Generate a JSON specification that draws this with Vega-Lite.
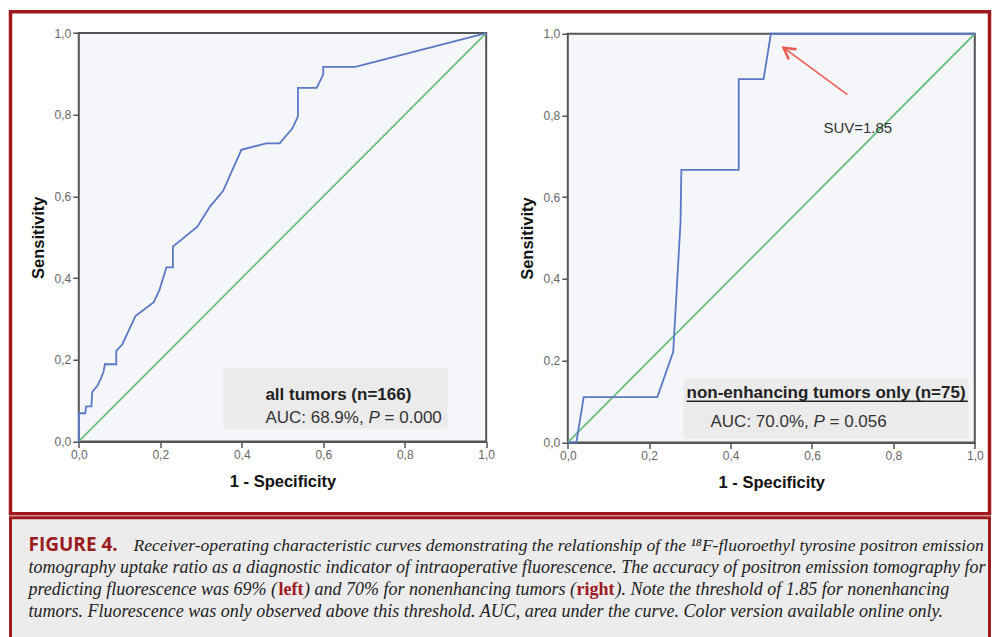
{
  "$schema": "https://vega.github.io/schema/vega-lite/v6.json",
  "background": "white",
  "padding": {"left": 8.5, "top": 9.75, "right": 0, "bottom": 0},
  "spacing": 0,
  "config": {
    "axis": {"domainColor": "#555", "domainWidth": 2, "tickColor": "#555", "tickWidth": 1.5, "tickSize": 6, "labelFont": "Liberation Sans", "labelFontSize": 12, "labelColor": "#666", "labelPadding": 2, "labelFlush": false, "labelOverlap": false, "titleFont": "Liberation Sans", "titleFontSize": 16.5, "titleFontWeight": "bold", "titleColor": "#111", "grid": false},
    "axisX": {"titlePadding": 13},
    "axisY": {"titlePadding": 8}
  },
  "vconcat": [
    {
      "width": 979,
      "height": 502,
      "view": {"stroke": "#a0191f", "strokeWidth": 3.5, "fill": "white"},
      "resolve": {"scale": {"x": "independent", "y": "independent"}, "axis": {"x": "independent", "y": "independent"}},
      "layer": [
        {
          "layer": [
            {
              "data": {"values": [{"x0": 0, "x1": 1, "y0": 0, "y1": 1}]},
              "mark": {"type": "rect", "fill": "#f4f6fa"},
              "encoding": {
                "x": {"field": "x0", "type": "quantitative", "scale": {"domain": [0, 1], "range": [68.3, 475.7], "nice": false, "zero": false},
                  "axis": {"orient": "bottom", "offset": -72.3, "values": [0, 0.2, 0.4, 0.6, 0.8, 1], "labelExpr": "replace(format(datum.value, '.1f'), '.', ',')", "title": "1 - Specificity"}},
                "x2": {"field": "x1"},
                "y": {"field": "y0", "type": "quantitative", "scale": {"domain": [0, 1], "range": [429.7, 21.3], "nice": false, "zero": false},
                  "axis": {"orient": "left", "offset": -68.3, "values": [0, 0.2, 0.4, 0.6, 0.8, 1], "labelExpr": "replace(format(datum.value, '.1f'), '.', ',')", "title": "Sensitivity"}},
                "y2": {"field": "y1"}
              }
            },
            {
              "data": {"values": [{"x0": 0.355, "x1": 0.905, "y0": 0.031, "y1": 0.18}]},
              "mark": {"type": "rect", "fill": "#ebebeb"},
              "encoding": {"x": {"field": "x0", "type": "quantitative"}, "x2": {"field": "x1"}, "y": {"field": "y0", "type": "quantitative"}, "y2": {"field": "y1"}}
            },
            {
              "data": {"values": [{"x0": 0, "x1": 1, "y0": 0, "y1": 1}]},
              "mark": {"type": "rect", "filled": false, "stroke": "#555", "strokeWidth": 2},
              "encoding": {"x": {"field": "x0", "type": "quantitative"}, "x2": {"field": "x1"}, "y": {"field": "y0", "type": "quantitative"}, "y2": {"field": "y1"}}
            },
            {
              "data": {"values": [{"x0": 0, "y0": 0, "i": 1}, {"x0": 1, "y0": 1, "i": 2}]},
              "mark": {"type": "line", "color": "#6cbf7e", "strokeWidth": 1.8},
              "encoding": {"x": {"field": "x0", "type": "quantitative"}, "y": {"field": "y0", "type": "quantitative"}, "order": {"field": "i"}}
            },
            {
              "data": {"values": [
                {"x0": 0, "y0": 0, "i": 1}, {"x0": 0, "y0": 0.069, "i": 2}, {"x0": 0.016, "y0": 0.069, "i": 3}, {"x0": 0.018, "y0": 0.086, "i": 4},
                {"x0": 0.031, "y0": 0.086, "i": 5}, {"x0": 0.033, "y0": 0.121, "i": 6}, {"x0": 0.046, "y0": 0.137, "i": 7}, {"x0": 0.054, "y0": 0.153, "i": 8},
                {"x0": 0.061, "y0": 0.172, "i": 9}, {"x0": 0.064, "y0": 0.189, "i": 10}, {"x0": 0.092, "y0": 0.189, "i": 11}, {"x0": 0.092, "y0": 0.222, "i": 12},
                {"x0": 0.107, "y0": 0.238, "i": 13}, {"x0": 0.139, "y0": 0.307, "i": 14}, {"x0": 0.184, "y0": 0.341, "i": 15}, {"x0": 0.198, "y0": 0.371, "i": 16},
                {"x0": 0.215, "y0": 0.426, "i": 17}, {"x0": 0.231, "y0": 0.426, "i": 18}, {"x0": 0.231, "y0": 0.477, "i": 19}, {"x0": 0.291, "y0": 0.526, "i": 20},
                {"x0": 0.322, "y0": 0.575, "i": 21}, {"x0": 0.354, "y0": 0.613, "i": 22}, {"x0": 0.399, "y0": 0.714, "i": 23}, {"x0": 0.46, "y0": 0.73, "i": 24},
                {"x0": 0.493, "y0": 0.73, "i": 25}, {"x0": 0.524, "y0": 0.766, "i": 26}, {"x0": 0.538, "y0": 0.796, "i": 27}, {"x0": 0.538, "y0": 0.866, "i": 28},
                {"x0": 0.584, "y0": 0.866, "i": 29}, {"x0": 0.6, "y0": 0.899, "i": 30}, {"x0": 0.6, "y0": 0.917, "i": 31}, {"x0": 0.679, "y0": 0.917, "i": 32},
                {"x0": 1, "y0": 1, "i": 33}]},
              "mark": {"type": "line", "color": "#5b78c6", "strokeWidth": 1.8},
              "encoding": {"x": {"field": "x0", "type": "quantitative"}, "y": {"field": "y0", "type": "quantitative"}, "order": {"field": "i"}}
            },
            {
              "data": {"values": [{"x0": 0.458, "y0": 0.102, "label": "all tumors (n=166)"}]},
              "mark": {"type": "text", "align": "left", "baseline": "alphabetic", "font": "Liberation Sans", "fontSize": 17, "fontWeight": "bold", "color": "#222"},
              "encoding": {"x": {"field": "x0", "type": "quantitative"}, "y": {"field": "y0", "type": "quantitative"}, "text": {"field": "label"}}
            },
            {
              "data": {"values": [{"x0": 0.458, "y0": 0.045, "label": "AUC: 68.9%,"}, {"x0": 0.7506, "y0": 0.045, "label": "= 0.000"}]},
              "mark": {"type": "text", "align": "left", "baseline": "alphabetic", "font": "Liberation Sans", "fontSize": 17, "color": "#333"},
              "encoding": {"x": {"field": "x0", "type": "quantitative"}, "y": {"field": "y0", "type": "quantitative"}, "text": {"field": "label"}}
            },
            {
              "data": {"values": [{"x0": 0.711, "y0": 0.045, "label": "P"}]},
              "mark": {"type": "text", "align": "left", "baseline": "alphabetic", "font": "Liberation Sans", "fontSize": 17, "fontStyle": "italic", "color": "#333"},
              "encoding": {"x": {"field": "x0", "type": "quantitative"}, "y": {"field": "y0", "type": "quantitative"}, "text": {"field": "label"}}
            }
          ]
        },
        {
          "layer": [
            {
              "data": {"values": [{"x0": 0, "x1": 1, "y0": 0, "y1": 1}]},
              "mark": {"type": "rect", "fill": "#f4f6fa"},
              "encoding": {
                "x": {"field": "x0", "type": "quantitative", "scale": {"domain": [0, 1], "range": [557.3, 964.3], "nice": false, "zero": false},
                  "axis": {"orient": "bottom", "offset": -71.3, "values": [0, 0.2, 0.4, 0.6, 0.8, 1], "labelExpr": "replace(format(datum.value, '.1f'), '.', ',')", "title": "1 - Specificity"}},
                "x2": {"field": "x1"},
                "y": {"field": "y0", "type": "quantitative", "scale": {"domain": [0, 1], "range": [430.7, 22], "nice": false, "zero": false},
                  "axis": {"orient": "left", "offset": -557.3, "values": [0, 0.2, 0.4, 0.6, 0.8, 1], "labelExpr": "replace(format(datum.value, '.1f'), '.', ',')", "title": "Sensitivity"}},
                "y2": {"field": "y1"}
              }
            },
            {
              "data": {"values": [{"x0": 0.284, "x1": 0.985, "y0": 0.009, "y1": 0.156}]},
              "mark": {"type": "rect", "fill": "#ebebeb"},
              "encoding": {"x": {"field": "x0", "type": "quantitative"}, "x2": {"field": "x1"}, "y": {"field": "y0", "type": "quantitative"}, "y2": {"field": "y1"}}
            },
            {
              "data": {"values": [{"x0": 0, "x1": 1, "y0": 0, "y1": 1}]},
              "mark": {"type": "rect", "filled": false, "stroke": "#555", "strokeWidth": 2},
              "encoding": {"x": {"field": "x0", "type": "quantitative"}, "x2": {"field": "x1"}, "y": {"field": "y0", "type": "quantitative"}, "y2": {"field": "y1"}}
            },
            {
              "data": {"values": [{"x0": 0, "y0": 0, "i": 1}, {"x0": 1, "y0": 1, "i": 2}]},
              "mark": {"type": "line", "color": "#6cbf7e", "strokeWidth": 1.8},
              "encoding": {"x": {"field": "x0", "type": "quantitative"}, "y": {"field": "y0", "type": "quantitative"}, "order": {"field": "i"}}
            },
            {
              "data": {"values": [
                {"x0": 0, "y0": 0, "i": 1}, {"x0": 0.021, "y0": 0, "i": 2}, {"x0": 0.039, "y0": 0.111, "i": 3}, {"x0": 0.22, "y0": 0.111, "i": 4},
                {"x0": 0.259, "y0": 0.222, "i": 5}, {"x0": 0.277, "y0": 0.54, "i": 6}, {"x0": 0.279, "y0": 0.667, "i": 7}, {"x0": 0.42, "y0": 0.667, "i": 8},
                {"x0": 0.42, "y0": 0.889, "i": 9}, {"x0": 0.481, "y0": 0.889, "i": 10}, {"x0": 0.499, "y0": 1, "i": 11}, {"x0": 1, "y0": 1, "i": 12}]},
              "mark": {"type": "line", "color": "#5b78c6", "strokeWidth": 1.8},
              "encoding": {"x": {"field": "x0", "type": "quantitative"}, "y": {"field": "y0", "type": "quantitative"}, "order": {"field": "i"}}
            },
            {
              "data": {"values": [{"x0": 0.687, "y0": 0.851, "x1": 0.53, "y1": 0.966}]},
              "mark": {"type": "rule", "color": "#ef5b4c", "strokeWidth": 1.5},
              "encoding": {"x": {"field": "x0", "type": "quantitative"}, "y": {"field": "y0", "type": "quantitative"}, "x2": {"field": "x1"}, "y2": {"field": "y1"}}
            },
            {
              "data": {"values": [{"x0": 0.543, "y0": 0.937, "i": 1}, {"x0": 0.53, "y0": 0.966, "i": 2}, {"x0": 0.562, "y0": 0.962, "i": 3}]},
              "mark": {"type": "line", "color": "#ef5b4c", "strokeWidth": 2.5},
              "encoding": {"x": {"field": "x0", "type": "quantitative"}, "y": {"field": "y0", "type": "quantitative"}, "order": {"field": "i"}}
            },
            {
              "data": {"values": [{"x0": 0.628, "y0": 0.758, "label": "SUV=1.85"}]},
              "mark": {"type": "text", "align": "left", "baseline": "alphabetic", "font": "Liberation Sans", "fontSize": 15, "color": "#333"},
              "encoding": {"x": {"field": "x0", "type": "quantitative"}, "y": {"field": "y0", "type": "quantitative"}, "text": {"field": "label"}}
            },
            {
              "data": {"values": [{"x0": 0.2917, "y0": 0.108, "label": "non-enhancing tumors only (n=75)"}]},
              "mark": {"type": "text", "align": "left", "baseline": "alphabetic", "font": "Liberation Sans", "fontSize": 17, "fontWeight": "bold", "color": "#222"},
              "encoding": {"x": {"field": "x0", "type": "quantitative"}, "y": {"field": "y0", "type": "quantitative"}, "text": {"field": "label"}}
            },
            {
              "data": {"values": [{"x0": 0.2917, "x1": 0.983, "y0": 0.101}]},
              "mark": {"type": "rule", "color": "#222", "strokeWidth": 1.5},
              "encoding": {"x": {"field": "x0", "type": "quantitative"}, "x2": {"field": "x1"}, "y": {"field": "y0", "type": "quantitative"}}
            },
            {
              "data": {"values": [{"x0": 0.3506, "y0": 0.037, "label": "AUC: 70.0%,"}, {"x0": 0.6431, "y0": 0.037, "label": "= 0.056"}]},
              "mark": {"type": "text", "align": "left", "baseline": "alphabetic", "font": "Liberation Sans", "fontSize": 17, "color": "#333"},
              "encoding": {"x": {"field": "x0", "type": "quantitative"}, "y": {"field": "y0", "type": "quantitative"}, "text": {"field": "label"}}
            },
            {
              "data": {"values": [{"x0": 0.6036, "y0": 0.037, "label": "P"}]},
              "mark": {"type": "text", "align": "left", "baseline": "alphabetic", "font": "Liberation Sans", "fontSize": 17, "fontStyle": "italic", "color": "#333"},
              "encoding": {"x": {"field": "x0", "type": "quantitative"}, "y": {"field": "y0", "type": "quantitative"}, "text": {"field": "label"}}
            }
          ]
        }
      ]
    },
    {
      "width": 979,
      "height": 121,
      "view": {"stroke": "#a0191f", "strokeWidth": 3, "fill": "#ececec"},
      "layer": [
        {
          "data": {"values": [{"line": 1, "text": "FIGURE 4."}]},
          "mark": {"type": "text", "align": "left", "baseline": "alphabetic", "font": "Open Sans", "fontWeight": "bold", "fontSize": 19, "color": "#9b1b21", "dx": 18},
          "encoding": {"x": {"value": 0}, "y": {"field": "line", "type": "quantitative", "scale": {"domain": [-0.3, 4.87], "reverse": true}, "axis": null}, "text": {"field": "text"}}
        },
        {
          "data": {"values": [{"line": 1, "text": "Receiver-operating characteristic curves demonstrating the relationship of the ¹⁸F-fluoroethyl tyrosine positron emission"}]},
          "mark": {"type": "text", "align": "left", "baseline": "alphabetic", "font": "Liberation Serif", "fontStyle": "italic", "fontSize": 17.6, "color": "#222", "dx": 123},
          "encoding": {"x": {"value": 0}, "y": {"field": "line", "type": "quantitative"}, "text": {"field": "text"}}
        },
        {
          "data": {"values": [
            {"line": 2, "text": "tomography uptake ratio as a diagnostic indicator of intraoperative fluorescence. The accuracy of positron emission tomography for"},
            {"line": 4, "text": "tumors. Fluorescence was only observed above this threshold. AUC, area under the curve. Color version available online only."}]},
          "mark": {"type": "text", "align": "left", "baseline": "alphabetic", "font": "Liberation Serif", "fontStyle": "italic", "fontSize": 18, "color": "#222", "dx": 18},
          "encoding": {"x": {"value": 0}, "y": {"field": "line", "type": "quantitative"}, "text": {"field": "text"}}
        },
        {
          "data": {"values": [{"line": 3, "text": "predicting fluorescence was 69% ("}]},
          "mark": {"type": "text", "align": "left", "baseline": "alphabetic", "font": "Liberation Serif", "fontStyle": "italic", "fontSize": 18, "color": "#222", "dx": 18},
          "encoding": {"x": {"value": 0}, "y": {"field": "line", "type": "quantitative"}, "text": {"field": "text"}}
        },
        {
          "data": {"values": [{"line": 3, "text": "left"}]},
          "mark": {"type": "text", "align": "left", "baseline": "alphabetic", "font": "Liberation Serif", "fontWeight": "bold", "fontSize": 18, "color": "#9b1b21", "dx": 268},
          "encoding": {"x": {"value": 0}, "y": {"field": "line", "type": "quantitative"}, "text": {"field": "text"}}
        },
        {
          "data": {"values": [{"line": 3, "text": ") and 70% for nonenhancing tumors ("}]},
          "mark": {"type": "text", "align": "left", "baseline": "alphabetic", "font": "Liberation Serif", "fontStyle": "italic", "fontSize": 18, "color": "#222", "dx": 293.5},
          "encoding": {"x": {"value": 0}, "y": {"field": "line", "type": "quantitative"}, "text": {"field": "text"}}
        },
        {
          "data": {"values": [{"line": 3, "text": "right"}]},
          "mark": {"type": "text", "align": "left", "baseline": "alphabetic", "font": "Liberation Serif", "fontWeight": "bold", "fontSize": 18, "color": "#9b1b21", "dx": 566}, 
          "encoding": {"x": {"value": 0}, "y": {"field": "line", "type": "quantitative"}, "text": {"field": "text"}}
        },
        {
          "data": {"values": [{"line": 3, "text": "). Note the threshold of 1.85 for nonenhancing"}]},
          "mark": {"type": "text", "align": "left", "baseline": "alphabetic", "font": "Liberation Serif", "fontStyle": "italic", "fontSize": 18, "color": "#222", "dx": 605},
          "encoding": {"x": {"value": 0}, "y": {"field": "line", "type": "quantitative"}, "text": {"field": "text"}}
        }
      ]
    }
  ]
}
